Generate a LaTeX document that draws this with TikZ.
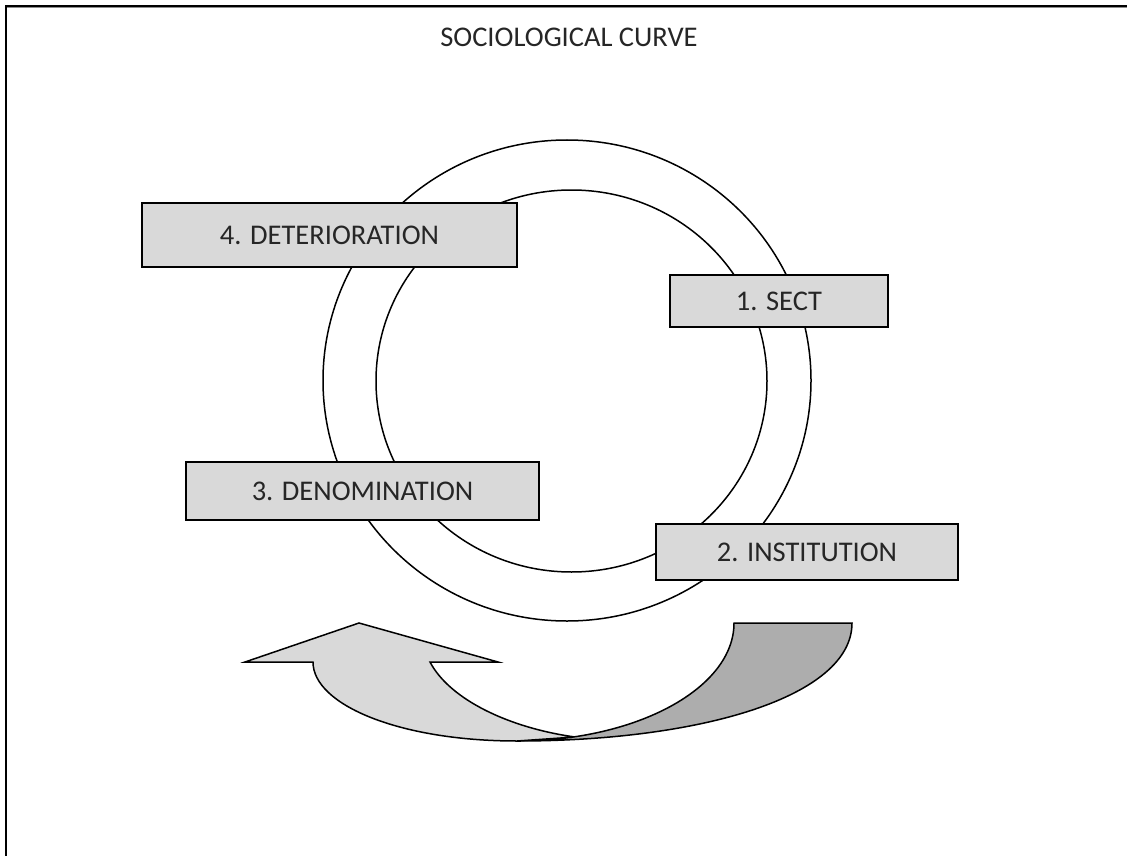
\documentclass[tikz,border=0pt]{standalone}
\usepackage{fontspec}
\setmainfont{Carlito}
\begin{document}
\begin{tikzpicture}[x=1pt,y=-1pt,
  stagebox/.style={draw=black,line width=2pt,fill=boxgray,inner sep=0pt,
    text=textgray,font=\fontsize{28.5}{32}\selectfont},
  ring/.style={draw=black,line width=1.5pt},
  bandlight/.style={draw=black,line width=1.5pt,fill=boxgray,line join=miter},
  banddark/.style={draw=black,line width=1.5pt,fill=darkgray}]
\definecolor{boxgray}{HTML}{D9D9D9}
\definecolor{darkgray}{HTML}{ADADAD}
\definecolor{textgray}{HTML}{262626}
\useasboundingbox (0,0) rectangle (1127,856);
\fill[white] (0,0) rectangle (1127,856);

% page frame: left and top rules
\draw[line width=1pt,black!45] (7,8.0) -- (1127,8.0);
\draw[line width=2pt] (6,856) -- (6,6.5) -- (1127,6.5);

% title
\node[text=textgray,font=\fontsize{28.5}{32}\selectfont] (title) at (569,37) {SOCIOLOGICAL CURVE};

% the two rings of the cycle
\draw[ring] (567,380.5) ellipse [x radius=244, y radius=240.5];
\draw[ring] (571.5,381) ellipse [x radius=195.5, y radius=191];

% stage boxes
\node[stagebox,minimum width=375pt,minimum height=64pt] (d4) at (329.5,235) {4. DETERIORATION};
\node[stagebox,minimum width=218pt,minimum height=52pt] (s1) at (779,301) {1. SECT};
\node[stagebox,minimum width=353pt,minimum height=58pt] (n3) at (362.5,491) {3. DENOMINATION};
\node[stagebox,minimum width=302pt,minimum height=56pt] (i2) at (807,552) {2. INSTITUTION};

% curved return arrow
\coordinate (tip) at (245,662);
\coordinate (head) at (359,623);
\coordinate (barb) at (498,662);
\coordinate (shin) at (430,662);
\coordinate (shout) at (313,662);
\coordinate (meet) at (575,737);
\coordinate (base) at (517,741);
\draw[bandlight] (tip) -- (head) -- (barb) -- (shin)
  .. controls (450,700) and (510,728) .. (meet) -- (base)
  .. controls (400,741) and (313,705) .. (shout) -- cycle;
\coordinate (tl) at (734,623);
\coordinate (tr) at (852,623);
\draw[banddark] (tl) -- (tr) .. controls (852,697) and (700,741) .. (base)
  .. controls (637,741) and (734,688) .. (tl) -- cycle;
\end{tikzpicture}
\end{document}
